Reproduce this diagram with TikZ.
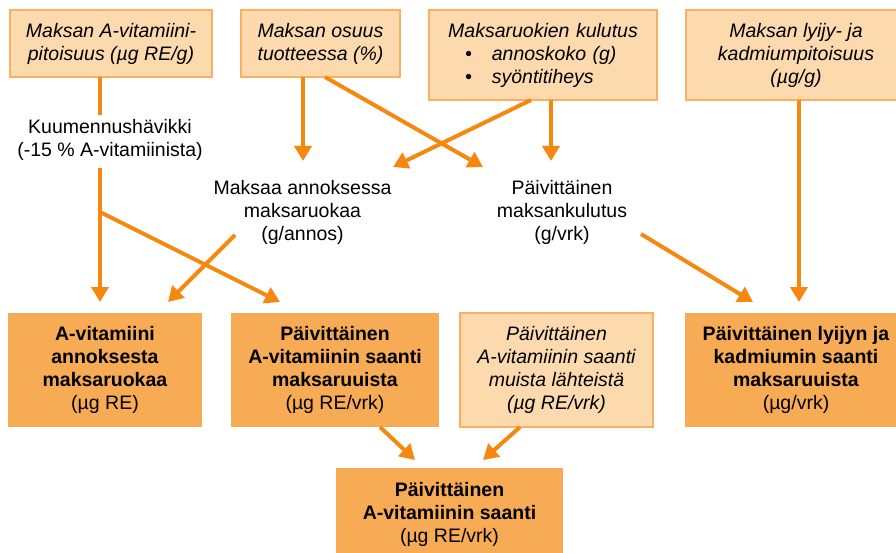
\documentclass[tikz,border=0pt]{standalone}
\usepackage{fontspec}
\setmainfont{Liberation Sans}
\usetikzlibrary{arrows.meta}

\definecolor{paleorange}{HTML}{FDD9AE}
\definecolor{edgeorange}{HTML}{F9B060}
\definecolor{darkorange}{HTML}{F8AB55}
\definecolor{arroworange}{HTML}{F7880F}

\newcommand{\diagfont}{\fontsize{19.5}{23}\selectfont}

\tikzset{
  inbox/.style={draw=edgeorange, line width=1.5pt, fill=paleorange, font=\diagfont\itshape, align=center, inner sep=0pt, outer sep=0pt},
  outbox/.style={fill=darkorange, align=center, inner sep=0pt, outer sep=0pt},
  midtext/.style={align=center, inner sep=0pt, outer sep=0pt},
  flow/.style={draw=arroworange, line width=4pt, -{Triangle[length=15pt,width=17pt]}},
  plainflow/.style={draw=arroworange, line width=4pt}
}

\begin{document}
\begin{tikzpicture}[x=1pt, y=-1pt, font=\diagfont]
\clip (0,0) rectangle (896,553);

\def \ytop {43.5}
\def \ymid {212}
\def \ybot {370}

% top row
\node[inbox, minimum width=202pt, minimum height=67pt] (vitpit) at (111,\ytop) {Maksan A-vitamiini-\\pitoisuus (µg RE/g)};
\node[inbox, minimum width=159pt, minimum height=67pt] (osuus) at (320.5,\ytop) {Maksan osuus\\tuotteessa (\%)};
\node[inbox, text width=220pt, inner xsep=4pt, minimum height=90pt, align=left] (kulutus) at (543,55) {\makebox[220pt]{Maksaruokien kulutus}\\
\hspace*{32pt}\textbullet\hspace{20pt}annoskoko (g)\\
\hspace*{32pt}\textbullet\hspace{20pt}syöntitiheys};
\node[inbox, minimum width=220pt, minimum height=90pt] (lyijy) at (796,55) {Maksan lyijy- ja\\kadmiumpitoisuus\\(µg/g)};

% middle texts
\node[midtext] (kuum) at (110,140) {Kuumennushävikki\\(-15 \% A-vitamiinista)};
\node[midtext] (annos) at (302.5,\ymid) {Maksaa annoksessa\\maksaruokaa\\(g/annos)};
\node[midtext] (paiv) at (562,\ymid) {Päivittäinen\\maksankulutus\\(g/vrk)};

% bottom row
\node[outbox, minimum width=194pt, minimum height=114pt] (avit) at (105,\ybot) {\textbf{A-vitamiini}\\\textbf{annoksesta}\\\textbf{maksaruokaa}\\(µg RE)};
\node[outbox, minimum width=208pt, minimum height=114pt] (saanti) at (335,\ybot) {\textbf{Päivittäinen}\\\textbf{A-vitamiinin saanti}\\\textbf{maksaruuista}\\(µg RE/vrk)};
\node[inbox, minimum width=193pt, minimum height=114pt] (muut) at (556.5,\ybot) {Päivittäinen\\A-vitamiinin saanti\\muista lähteistä\\(µg RE/vrk)};
\node[outbox, minimum width=222pt, minimum height=114pt] (raskas) at (796,\ybot) {\textbf{Päivittäinen lyijyn ja}\\\textbf{kadmiumin saanti}\\\textbf{maksaruuista}\\(µg/vrk)};
\node[outbox, minimum width=227pt, minimum height=92pt] (yht) at (449.5,514) {\textbf{Päivittäinen}\\\textbf{A-vitamiinin saanti}\\(µg RE/vrk)};

% gaps and tips
\coordinate (kup) at (100,115);
\coordinate (kdown) at (100,168);
\coordinate (ksplit) at (100,212);
\coordinate (annostip) at (393,167);
\coordinate (paivtip) at (483,167);
\coordinate (annosout) at (235,235);
\coordinate (paivout) at (641,234);
\coordinate (pbx) at (799,100);

% left column
\draw[plainflow] (kup |- vitpit.south) -- (kup);
\draw[flow] (kdown) -- ([yshift=11pt]kdown |- avit.north);
\draw[flow] (ksplit) -- ([xshift=49pt,yshift=11pt]saanti.north west);

% into middle texts
\draw[flow] ([xshift=62pt]osuus.south west) -- ++(0,84);
\draw[flow] ([xshift=84pt]osuus.south west) -- (paivtip);
\draw[flow] ([xshift=122pt]kulutus.south west) -- ++(0,61);
\draw[flow] ([xshift=102pt]kulutus.south west) -- (annostip);

% into bottom row
\draw[flow] (annosout) -- ([xshift=160pt,yshift=11pt]avit.north west);
\draw[flow] (paivout) -- ([xshift=68pt,yshift=11pt]raskas.north west);
\draw[flow] (pbx |- lyijy.south) -- ([yshift=11pt]pbx |- raskas.north);

% into total
\draw[flow] ([xshift=149pt]saanti.south west) -- ([xshift=79pt,yshift=8pt]yht.north west);
\draw[flow] ([xshift=60pt]muut.south west) -- ([xshift=147pt,yshift=8pt]yht.north west);

\end{tikzpicture}
\end{document}
